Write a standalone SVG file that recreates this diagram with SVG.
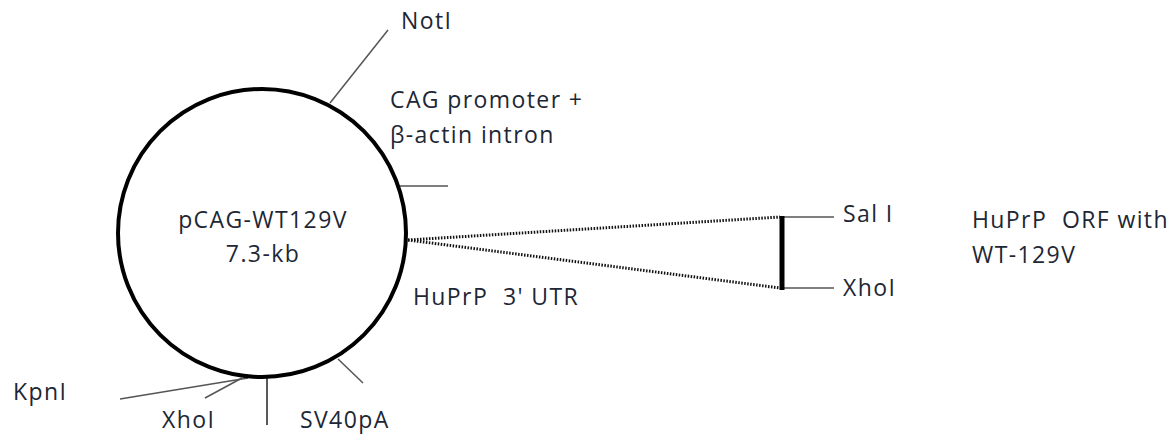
<svg xmlns="http://www.w3.org/2000/svg" width="1175" height="437" viewBox="0 0 1175 437">
<style>
text{font-family:"Open Sans","Noto Sans",sans-serif;font-size:23px;letter-spacing:1.4px;fill:#1d2735;white-space:pre}
.tick{stroke:#555;stroke-width:1.5;fill:none}
.dot{stroke:#111;stroke-width:3;stroke-dasharray:1.5 1.5;fill:none}
</style>
<rect width="1175" height="437" fill="#fff"/>
<g id="connectors">
<line class="tick" x1="330" y1="103" x2="388" y2="30"/>
<line class="tick" x1="400" y1="186" x2="448" y2="186"/>
<line class="tick" x1="120" y1="399" x2="248" y2="378"/>
<line class="tick" x1="205" y1="398" x2="242" y2="378"/>
<line class="tick" x1="267" y1="378" x2="267" y2="425" style="stroke:#222"/>
<line class="tick" x1="338" y1="359" x2="363" y2="383"/>
<line class="dot" x1="408" y1="240" x2="780" y2="217"/>
<line class="dot" x1="408" y1="240" x2="780" y2="288"/>
<line class="tick" x1="782" y1="217" x2="834" y2="217"/>
<line class="tick" x1="782" y1="288" x2="834" y2="288"/>
</g>
<g id="plasmid">
<circle cx="262" cy="233" r="144" fill="none" stroke="#000" stroke-width="4"/>
<text x="263" y="228" text-anchor="middle">pCAG-WT129V</text>
<text x="263" y="262" text-anchor="middle">7.3-kb</text>
</g>
<g id="insert">
<line x1="782" y1="216" x2="782" y2="290" stroke="#000" stroke-width="5"/>
</g>
<g id="labels">
<text x="401" y="29">NotI</text>
<text x="390" y="108">CAG promoter +</text>
<text x="390" y="143">β-actin intron</text>
<text x="413" y="305" xml:space="preserve">HuPrP  3' UTR</text>
<text x="843" y="222">Sal I</text>
<text x="843" y="296">XhoI</text>
<text x="972" y="228" xml:space="preserve">HuPrP  ORF with</text>
<text x="972" y="263">WT-129V</text>
<text x="13" y="400">KpnI</text>
<text x="162" y="428">XhoI</text>
<text x="300" y="428">SV40pA</text>
</g>
</svg>
